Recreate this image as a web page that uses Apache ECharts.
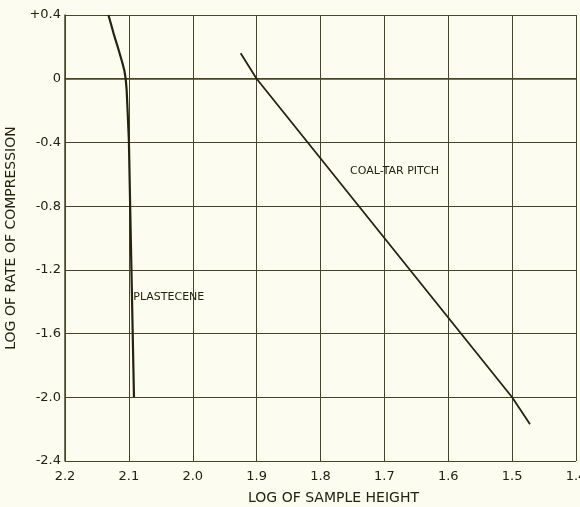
<!DOCTYPE html>
<html>
<head>
<meta charset="utf-8">
<script src="https://cdn.jsdelivr.net/npm/echarts@6/dist/echarts.min.js"></script>
<style>html,body{margin:0;padding:0;background:#fcfcf1;}#c{width:580px;height:507px;}</style>
</head>
<body>
<div id="c"></div>
<script>
// Data
var plastecene = [[2.132, 0.4], [2.124, 0.285], [2.116, 0.18], [2.110, 0.097], [2.107, 0.05], [2.105, 0.0], [2.1035, -0.07], [2.102, -0.2], [2.100, -0.385], [2.097, -1.0], [2.094, -1.6], [2.092, -2.0]];
var coalTarPitch = [[1.925, 0.16], [1.9, 0.0], [1.5, -2.0], [1.472, -2.17]];
var curveLabels = [
  {name: 'PLASTECENE', value: [2.0375, -1.37]},
  {name: 'COAL-TAR PITCH', value: [1.684, -0.58]}
];
var xTickLabels = ['1.4', '1.5', '1.6', '1.7', '1.8', '1.9', '2.0', '2.1', '2.2'];
var yTickLabels = ['-2.4', '-2.0', '-1.6', '-1.2', '-0.8', '-0.4', '0', '+0.4'];

var ink = '#23230f';
var gridInk = '#45452a';
var font = 'DejaVu Sans';

var chart = echarts.init(document.getElementById('c'));
chart.setOption({
  backgroundColor: '#fcfcf1',
  animation: false,
  grid: {left: 65, right: 4, top: 15, bottom: 46, outerBoundsMode: 'none', containLabel: false},
  xAxis: {
    type: 'value', inverse: true, min: 1.4, max: 2.2, interval: 0.1,
    name: 'LOG OF SAMPLE HEIGHT', nameLocation: 'middle', nameGap: 30,
    nameTextStyle: {color: ink, fontFamily: font, fontSize: 14, padding: [0, 0, 0, 26]},
    axisLine: {lineStyle: {color: gridInk, width: 1.5}},
    axisTick: {show: false},
    axisLabel: {color: ink, fontFamily: font, fontSize: 13, margin: 9, hideOverlap: false,
      formatter: function (v) { var i = Math.round((v - 1.4) / 0.1); return xTickLabels[i]; }},
    splitLine: {show: true, lineStyle: {color: gridInk, width: 1}}
  },
  yAxis: {
    type: 'value', min: -2.4, max: 0.4, interval: 0.4,
    name: 'LOG OF RATE OF COMPRESSION', nameLocation: 'middle', nameGap: 44,
    nameTextStyle: {color: ink, fontFamily: font, fontSize: 14},
    axisLine: {show: true, lineStyle: {color: gridInk, width: 1.5}},
    axisTick: {show: false},
    axisLabel: {color: ink, fontFamily: font, fontSize: 13, margin: 4,
      formatter: function (v) { var i = Math.round((v + 2.4) / 0.4); return yTickLabels[i]; }},
    splitLine: {show: true, lineStyle: {color: gridInk, width: 1}}
  },
  series: [
    {type: 'line', data: plastecene, showSymbol: false, symbol: 'none',
      lineStyle: {color: ink, width: 2.2, join: 'round'}},
    {type: 'line', data: coalTarPitch, showSymbol: false, symbol: 'none',
      lineStyle: {color: ink, width: 1.8}},
    {type: 'scatter', data: curveLabels, symbolSize: 0, itemStyle: {opacity: 1},
      label: {show: true, position: 'inside', formatter: '{b}', color: ink, opacity: 1, fontFamily: font, fontSize: 11}}
  ]
});
</script>
</body>
</html>
